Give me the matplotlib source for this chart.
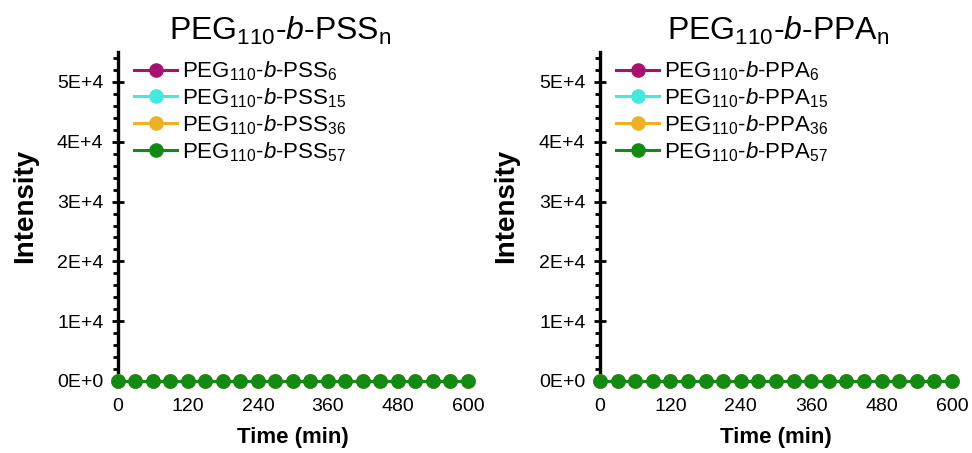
import matplotlib
matplotlib.use("Agg")
import matplotlib.pyplot as plt
from matplotlib.ticker import MultipleLocator, FuncFormatter

plt.rcParams['font.family'] = ['Liberation Sans', 'DejaVu Sans']
plt.rcParams['mathtext.fontset'] = 'custom'
plt.rcParams['mathtext.rm'] = 'Liberation Sans'
plt.rcParams['mathtext.it'] = 'Liberation Sans:italic'
plt.rcParams['mathtext.bf'] = 'Liberation Sans:bold'

# Data: fluorescence intensity vs time, all series stay at zero
time_min = [0, 30, 60, 90, 120, 150, 180, 210, 240, 270, 300,
            330, 360, 390, 420, 450, 480, 510, 540, 570, 600]
n_values = [6, 15, 36, 57]
pss_intensity = {
    6: [0] * 21,
    15: [0] * 21,
    36: [0] * 21,
    57: [0] * 21,
}
ppa_intensity = {
    6: [0] * 21,
    15: [0] * 21,
    36: [0] * 21,
    57: [0] * 21,
}
colors = ['#A8126F', '#44E8DE', '#EDB027', '#148A14']
x_ticks = [0, 120, 240, 360, 480, 600]


def sci_label(v, pos):
    if v == 0:
        return '0E+0'
    exp = 4
    return '%dE+%d' % (round(v / 10 ** exp), exp)


def draw_panel(ax, block, data, title_x):
    for n, c in zip(n_values, colors):
        ax.plot(time_min, data[n], color=c, lw=2.2, marker='o', ms=9.5,
                clip_on=False, zorder=3,
                label=r'PEG$_{110}$-$\it{b}$-%s$_{%d}$' % (block, n))
    ax.set_title(r'PEG$_{110}$-$\it{b}$-%s$_{\mathrm{n}}$' % block,
                 fontsize=23, pad=9, x=title_x)
    ax.set_xlim(0, 600)
    ax.set_ylim(0, 55000)
    ax.set_xticks(x_ticks)
    ax.yaxis.set_major_locator(MultipleLocator(10000))
    ax.yaxis.set_minor_locator(MultipleLocator(2000))
    ax.yaxis.set_major_formatter(FuncFormatter(sci_label))
    for s in ['top', 'right', 'bottom']:
        ax.spines[s].set_visible(False)
    ax.spines['left'].set_linewidth(2.4)
    ax.tick_params(axis='x', length=0, labelsize=14, pad=12)
    ax.tick_params(axis='y', which='major', direction='inout', length=9,
                   width=2, labelsize=14, pad=6)
    ax.tick_params(axis='y', which='minor', direction='out', length=3.5,
                   width=2)
    ax.set_xlabel('Time (min)', fontsize=16, fontweight='bold', labelpad=9)
    ax.set_ylabel('Intensity', fontsize=20, fontweight='bold')
    ax.yaxis.set_label_coords(-0.229, 0.532)
    ax.legend(loc='upper left', bbox_to_anchor=(0.02, 1.005), frameon=False,
              fontsize=16, handlelength=1.95, handletextpad=0.2,
              labelspacing=0.15, borderaxespad=0)


fig = plt.figure(figsize=(9.72, 4.53), dpi=100)
ax1 = fig.add_axes([0.1214, 0.159, 0.360, 0.726])
ax2 = fig.add_axes([0.6173, 0.159, 0.362, 0.726])
draw_panel(ax1, 'PSS', pss_intensity, 0.463)
draw_panel(ax2, 'PPA', ppa_intensity, 0.506)

fig.savefig('out.png', dpi=100)
